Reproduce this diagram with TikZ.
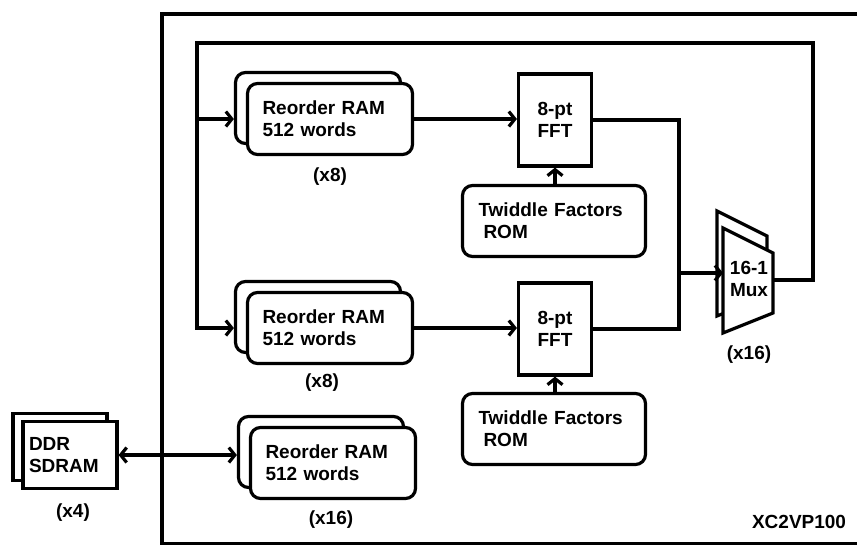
\documentclass[tikz,border=0pt]{standalone}
\usepackage{fontspec}
\setmainfont{Liberation Sans}
\usetikzlibrary{arrows.meta, positioning, calc}

\begin{document}
\begin{tikzpicture}[x=1pt, y=-1pt, line width=3.2pt,
    every node/.style={font=\fontsize{19}{22}\selectfont\bfseries},
    ram/.style={draw, fill=white, rounded corners=10pt, minimum width=165pt, minimum height=71pt, text width=135pt, inner xsep=15pt, align=left},
    rom/.style={draw, fill=white, rounded corners=10pt, minimum width=183pt, minimum height=71pt, text width=151pt, inner xsep=16pt, align=left},
    fft/.style={draw, fill=white, minimum width=73pt, minimum height=92pt, align=center},
    mem/.style={draw, fill=white, minimum width=94pt, minimum height=67pt, text width=82pt, inner xsep=6pt, align=left},
    cnt/.style={inner sep=0pt, align=center},
    arr/.style={-{Straight Barb[length=6pt,width=15pt]}}]
    \fill[white] (0,0) rectangle (857,544);
    \useasboundingbox (0,0) rectangle (857,544);
    % Chip outline
    \node[draw, line width=4pt, minimum width=712pt, minimum height=530pt, anchor=north west] (chip) at (160,12) {};
    \node[anchor=base east] (part) at (851,528) {XC2VP100};
    % Reorder RAMs
    \node[ram] (ram1b) at (318,108) {};
    \node[ram] (ram1) at (330,119) {Reorder RAM\\512 words};
    \node[ram] (ram2b) at (318,317) {};
    \node[ram] (ram2) at (330,328) {Reorder RAM\\512 words};
    \node[ram] (ram3b) at (321,452) {};
    \node[ram] (ram3) at (333,463) {Reorder RAM\\512 words};
    \node[cnt] (cnt1) at (330,177) {(x8)};
    \node[cnt] (cnt2) at (322,383) {(x8)};
    \node[cnt] (cnt3) at (331,520) {(x16)};
    % FFTs and ROMs
    \node[fft] (fft1) at (555,120) {8-pt\\FFT};
    \node[fft] (fft2) at (555,329) {8-pt\\FFT};
    \node[rom] (rom1) at (554,221) {Twiddle Factors\\\hspace{5pt}ROM};
    \node[rom] (rom2) at (554,429) {Twiddle Factors\\\hspace{5pt}ROM};
    % External memory
    \node[mem] (ddrb) at (60,447) {};
    \node[mem] (ddr) at (70,455) {DDR\\SDRAM};
    \node[cnt] (cnt4) at (73,513) {(x4)};
    % Mux
    \draw[fill=white] (717,211) -- (767,236) -- (767,296) -- (717,316) -- cycle;
    \draw[fill=white] (723,228) -- (773,253) -- (773,313) -- (723,333) -- cycle;
    \node[cnt] (mux) at (749,279) {16-1\\Mux};
    \node[cnt] (cnt5) at (749,355) {(x16)};
    \coordinate (muxin) at (723,273);
    \coordinate (muxout) at (773,280);
    \coordinate (jn) at (679,273);
    \coordinate (fbr) at (813,43);
    \coordinate (fbl) at (197,43);
    % Data path
    \draw[arr] (ram1.east) -- (fft1.west |- ram1.east);
    \draw[arr] (ram2.east) -- (fft2.west |- ram2.east);
    \draw[arr] (rom1.north -| fft1) -- (fft1.south);
    \draw[arr] (rom2.north -| fft2) -- (fft2.south);
    \draw (fft1.east) -| (jn);
    \draw (fft2.east) -| (jn);
    \draw[arr] (jn) -- (muxin);
    % Feedback
    \draw[arr] (muxout) -| (fbr) -- (fbl) |- (ram2b.west |- ram2.west);
    \draw[arr] (fbl |- ram1.west) -- (ram1b.west |- ram1.west);
    \draw[{Straight Barb[length=6pt,width=15pt]}-{Straight Barb[length=6pt,width=15pt]}] (ddr.east) -- (ram3b.west |- ddr.east);
\end{tikzpicture}
\end{document}
